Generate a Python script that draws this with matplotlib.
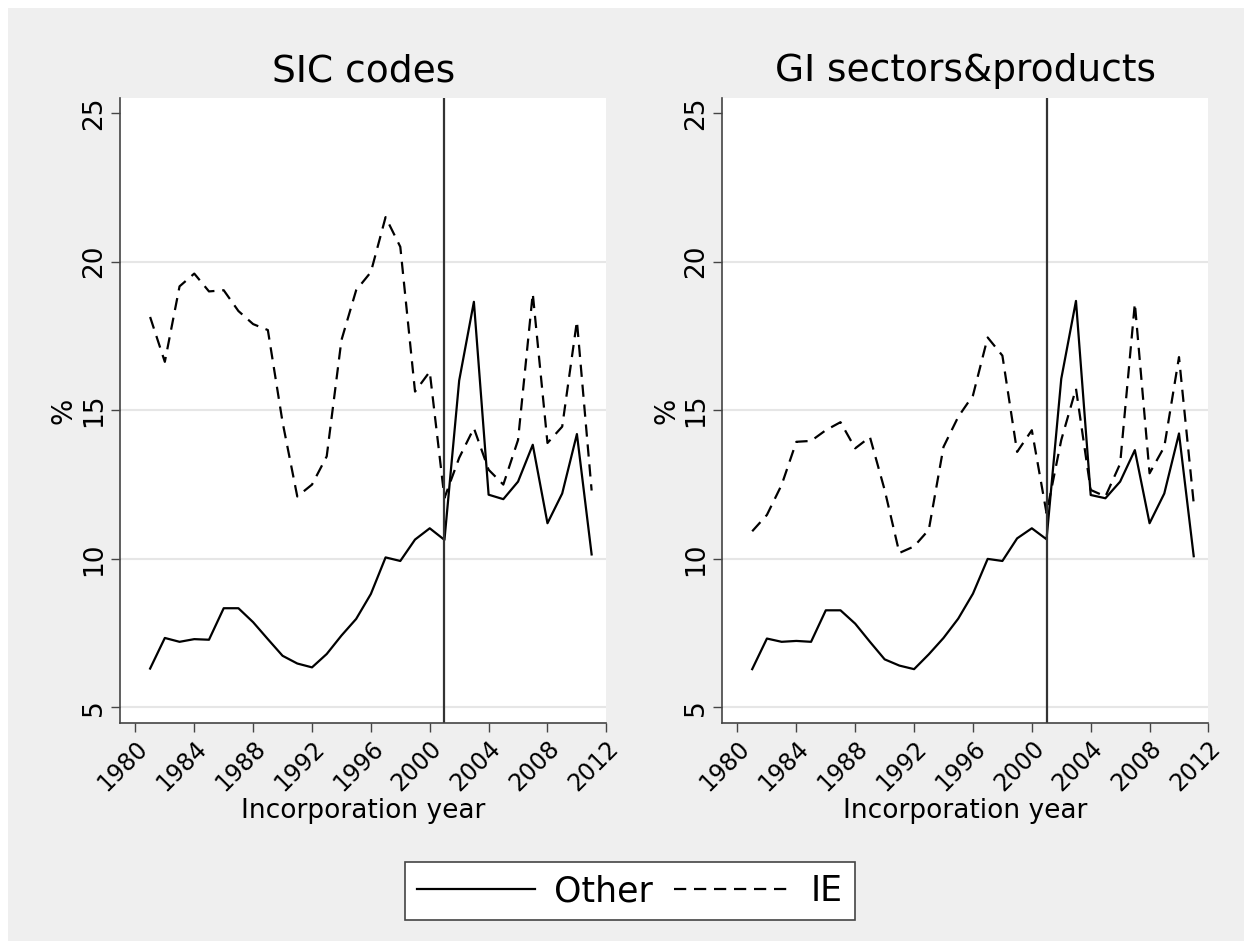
import matplotlib.pyplot as plt
import matplotlib.patches as mpatches
import numpy as np

years = list(range(1981, 2012))

# SIC codes panel
sic_other = [6.31, 7.34, 7.21, 7.30, 7.28, 8.34, 8.34, 7.87, 7.30, 6.74,
             6.48, 6.35, 6.80, 7.42, 7.98, 8.82, 10.05, 9.93, 10.65, 11.03,
             10.64, 16.00, 18.65, 12.16, 12.01, 12.60, 13.84, 11.20, 12.20, 14.20,
             10.15]
sic_ie = [18.14, 16.63, 19.17, 19.60, 19.00, 19.04, 18.34, 17.90, 17.70, 14.60,
          12.10, 12.50, 13.45, 17.36, 19.04, 19.65, 21.50, 20.50, 15.63, 16.30,
          12.05, 13.40, 14.40, 13.00, 12.50, 14.00, 18.93, 13.90, 14.45, 18.00,
          12.30]

# GI sectors&products panel
gi_other = [6.29, 7.32, 7.21, 7.24, 7.21, 8.27, 8.27, 7.82, 7.21, 6.62,
            6.41, 6.29, 6.79, 7.34, 7.99, 8.83, 10.00, 9.93, 10.69, 11.03,
            10.66, 16.06, 18.68, 12.15, 12.04, 12.60, 13.66, 11.20, 12.20, 14.22,
            10.09]
gi_ie = [10.93, 11.48, 12.49, 13.94, 13.97, 14.33, 14.60, 13.72, 14.10, 12.32,
         10.20, 10.42, 10.98, 13.77, 14.78, 15.50, 17.45, 16.84, 13.60, 14.33,
         11.54, 14.00, 15.73, 12.32, 12.10, 13.20, 18.60, 12.88, 13.77, 16.79,
         11.87]

titles = ['SIC codes', 'GI sectors&products']
xticks = [1980, 1984, 1988, 1992, 1996, 2000, 2004, 2008, 2012]
yticks = [5, 10, 15, 20, 25]
cutoff = 2001

BG = '#efefef'
DASH = (0, (5.5, 3.5))

fig = plt.figure(figsize=(12.52, 9.49), dpi=100, facecolor='white')
fig.patches.append(mpatches.Rectangle((8 / 1252, 8 / 949), 1236 / 1252, 933 / 949,
                                      transform=fig.transFigure, facecolor=BG,
                                      edgecolor='none', zorder=-10))

panels = [(0.0958, sic_other, sic_ie), (0.5767, gi_other, gi_ie)]
for i, (left, other, ie) in enumerate(panels):
    ax = fig.add_axes([left, 0.2382, 0.3885, 0.6586])
    ax.set_facecolor('white')
    ax.plot(years, other, color='black', lw=1.6, label='Other')
    ax.plot(years, ie, color='black', lw=1.6, linestyle=DASH, label='IE')
    ax.axvline(cutoff, color='#333333', lw=1.6)
    ax.set_xlim(1978.95, 2012)
    ax.set_ylim(4.48, 25.51)
    ax.set_xticks(xticks)
    ax.set_yticks(yticks)
    for g in [5, 10, 15, 20]:
        ax.axhline(g, color='#e6e6e6', lw=1.5, zorder=0)
    for s in ['top', 'right']:
        ax.spines[s].set_visible(False)
    for s in ['left', 'bottom']:
        ax.spines[s].set_color('#444444')
        ax.spines[s].set_linewidth(1.2)
    ax.tick_params(length=6.5, width=1.0, color='#444444', pad=3)
    ax.tick_params(axis='y', labelsize=19)
    ax.tick_params(axis='x', labelsize=17)
    for lab in ax.get_yticklabels():
        lab.set_rotation(90)
        lab.set_va('center')
    for lab in ax.get_xticklabels():
        lab.set_rotation(45)
        lab.set_ha('right')
        lab.set_rotation_mode('anchor')
    ax.set_title(titles[i], fontsize=27, pad=12)
    ax.set_xlabel('Incorporation year', fontsize=19, labelpad=2)
    ax.set_ylabel('%', fontsize=20, labelpad=2)

handles, labels = ax.get_legend_handles_labels()
leg = fig.legend(handles, labels, loc='center', bbox_to_anchor=(0.503, 0.0611),
                 ncol=2, fontsize=25, frameon=True, fancybox=False,
                 handlelength=3.4, handletextpad=0.55, columnspacing=0.6,
                 borderpad=0.35, borderaxespad=0)
leg.get_frame().set_edgecolor('#444444')
leg.get_frame().set_linewidth(1.2)
leg.get_frame().set_facecolor('white')
leg.get_frame().set_alpha(1)

fig.savefig('out.png', dpi=100, facecolor=fig.get_facecolor())
